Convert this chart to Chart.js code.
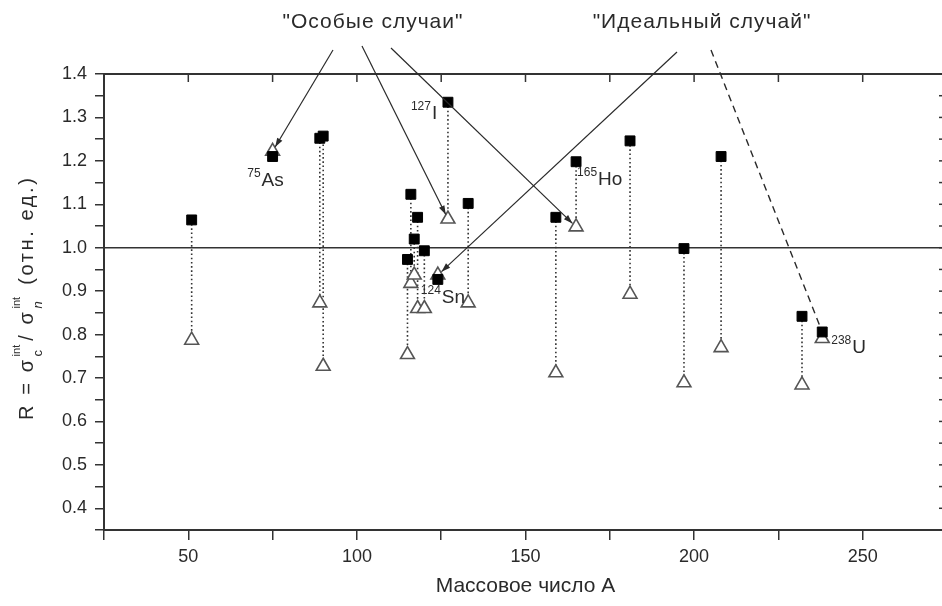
<!DOCTYPE html>
<html>
<head>
<meta charset="utf-8">
<script src="https://cdn.jsdelivr.net/npm/chart.js@4/dist/chart.umd.min.js"></script>
<style>
  html, body { margin: 0; padding: 0; overflow: hidden; background: #fff; }
  canvas { display: block; }
</style>
</head>
<body>
<canvas id="chart" width="960" height="606"></canvas>
<script>
// mass number A and the two ratios for every nucleus
const massNumbers = [51, 75, 89, 90, 115, 116, 117, 118, 120, 124, 127, 133, 159, 165, 181, 197, 208, 232, 238];
const ratioC = [1.064, 1.210, 1.252, 1.257, 0.973, 1.123, 1.020, 1.070, 0.993, 0.927, 1.335, 1.102, 1.070, 1.198, 1.246, 0.998, 1.210, 0.842, 0.806];
const ratioN = [0.787, 1.222, 0.873, 0.727, 0.754, 0.918, 0.937, 0.860, 0.860, 0.937, 1.066, 0.873, 0.712, 1.048, 0.893, 0.689, 0.770, 0.684, 0.791];

const xTickLabels = [50, 100, 150, 200, 250];
const yTickLabels = ['0.4', '0.5', '0.6', '0.7', '0.8', '0.9', '1.0', '1.1', '1.2', '1.3', '1.4'];

// labelled nuclei: [mass number, superscript, symbol]
const isotopes = [
    [75, '75', 'As'],
    [127, '127', 'I'],
    [165, '165', 'Ho'],
    [124, '124', 'Sn'],
    [238, '238', 'U'],
];
const isotopeOffsets = { 75: [-11, 29], 127: [-16, 17], 165: [22, 23], 124: [4, 24], 238: [30, 21] };

// callouts: text, centre, and the nuclei each one points at
const specialCases = ['"Особые случаи"', [373, 22], [75, 127, 165]];
const idealCases = ['"Идеальный случай"', [702, 22], [124, 238]];
const calloutStarts = { 75: [333, 50], 127: [362, 46], 165: [391, 48], 124: [677, 52], 238: [711, 50] };

const FONT = '"Liberation Sans", Arial, sans-serif';
const INK = '#2a2a2a';
Chart.defaults.font.family = FONT;

function arrow(ctx, x0, y0, x1, y1, dashed) {
    const ang = Math.atan2(y1 - y0, x1 - x0);
    ctx.save();
    ctx.strokeStyle = INK;
    ctx.fillStyle = INK;
    ctx.lineWidth = dashed ? 1.4 : 1.2;
    if (dashed) ctx.setLineDash([7, 5]);
    ctx.beginPath();
    ctx.moveTo(x0, y0);
    ctx.lineTo(x1, y1);
    ctx.stroke();
    ctx.setLineDash([]);
    if (!dashed) {
        const len = 9, half = 3;
        ctx.beginPath();
        ctx.moveTo(x1, y1);
        ctx.lineTo(x1 - len * Math.cos(ang) + half * Math.sin(ang), y1 - len * Math.sin(ang) - half * Math.cos(ang));
        ctx.lineTo(x1 - len * Math.cos(ang) - half * Math.sin(ang), y1 - len * Math.sin(ang) + half * Math.cos(ang));
        ctx.closePath();
        ctx.fill();
    }
    ctx.restore();
}

const decorations = {
    id: 'decorations',
    beforeDatasetsDraw(chart) {
        // dotted drop lines between the two values of a nucleus
        const { ctx, scales: { x, y } } = chart;
        ctx.save();
        ctx.strokeStyle = '#333';
        ctx.lineWidth = 1.6;
        ctx.setLineDash([1.6, 2.6]);
        massNumbers.forEach((a, i) => {
            const px = x.getPixelForValue(a);
            ctx.beginPath();
            ctx.moveTo(px, y.getPixelForValue(ratioC[i]));
            ctx.lineTo(px, y.getPixelForValue(ratioN[i]));
            ctx.stroke();
        });
        ctx.restore();
    },
    afterDraw(chart) {
        const { ctx, chartArea: area, scales: { x, y } } = chart;
        ctx.save();

        // top and right frame with inward ticks
        ctx.strokeStyle = '#333';
        ctx.lineWidth = 2;
        ctx.beginPath();
        ctx.moveTo(area.left, area.top);
        ctx.lineTo(area.right, area.top);
        ctx.lineTo(area.right, area.bottom);
        ctx.stroke();
        ctx.lineWidth = 1.5;
        x.ticks.forEach(t => {
            const px = x.getPixelForValue(t.value);
            ctx.beginPath();
            ctx.moveTo(px, area.top);
            ctx.lineTo(px, area.top + 8);
            ctx.stroke();
        });
        y.ticks.forEach(t => {
            const py = y.getPixelForValue(t.value);
            ctx.beginPath();
            ctx.moveTo(area.right, py);
            ctx.lineTo(area.right - 8, py);
            ctx.stroke();
        });

        // isotope labels
        ctx.fillStyle = INK;
        ctx.textBaseline = 'alphabetic';
        isotopes.forEach(([a, sup, sym]) => {
            const i = massNumbers.indexOf(a);
            const [dx, dy] = isotopeOffsets[a];
            const bx = x.getPixelForValue(a) + dx;
            const by = y.getPixelForValue(ratioC[i]) + dy;
            ctx.font = '19px ' + FONT;
            ctx.textAlign = 'left';
            ctx.fillText(sym, bx, by);
            ctx.font = '12px ' + FONT;
            ctx.textAlign = 'right';
            ctx.fillText(sup, bx - 1, by - 9);
        });

        // callouts
        [specialCases, idealCases].forEach(([text, [cx, cy], targets]) => {
            ctx.font = '21px ' + FONT;
            ctx.letterSpacing = '1px';
            ctx.textAlign = 'center';
            ctx.textBaseline = 'middle';
            ctx.fillStyle = INK;
            ctx.fillText(text, cx, cy);
            ctx.letterSpacing = '0px';
            targets.forEach(a => {
                const i = massNumbers.indexOf(a);
                const dashed = a === 238;
                const tx = x.getPixelForValue(a);
                const ty = y.getPixelForValue(dashed ? ratioC[i] : ratioN[i]);
                const [sx, sy] = calloutStarts[a];
                const d = Math.hypot(tx - sx, ty - sy);
                const k = (d - 5) / d;
                arrow(ctx, sx, sy, sx + (tx - sx) * k, sy + (ty - sy) * k, dashed);
            });
        });

        // y axis title: R = σc^int / σn^int (отн. ед.)
        ctx.translate(27, 420);
        ctx.rotate(-Math.PI / 2);
        ctx.textAlign = 'left';
        ctx.textBaseline = 'middle';
        ctx.letterSpacing = '2.6px';
        let cur = 0;
        const main = (s, font) => {
            ctx.font = font || '20px ' + FONT;
            ctx.fillText(s, cur, 0);
            cur += ctx.measureText(s).width;
        };
        const stack = (sup, sub, subFont) => {
            ctx.letterSpacing = '0px';
            ctx.font = '11px ' + FONT;
            const w1 = ctx.measureText(sup).width;
            ctx.fillText(sup, cur + 1, -10);
            ctx.font = subFont;
            const w2 = ctx.measureText(sub).width;
            ctx.fillText(sub, cur + 1, 11);
            cur += Math.max(w1, w2) + 5;
            ctx.letterSpacing = '2.6px';
        };
        main('R = σ');
        stack('int', 'c', '13px ' + FONT);
        main('/ σ');
        stack('int', 'n', 'italic 13px ' + FONT);
        main(' (отн. ед.)');
        ctx.restore();
    }
};

new Chart(document.getElementById('chart'), {
    type: 'scatter',
    data: {
        datasets: [
            {
                label: 'R = 1',
                type: 'line',
                data: [{ x: 25, y: 1 }, { x: 275, y: 1 }],
                borderColor: '#333',
                borderWidth: 1.6,
                pointRadius: 0,
                order: 2,
            },
            {
                label: 'σn',
                data: massNumbers.map((a, i) => ({ x: a, y: ratioN[i] })),
                pointStyle: 'triangle',
                pointRadius: 8,
                backgroundColor: '#fff',
                borderColor: '#555',
                borderWidth: 1.6,
                order: 1,
            },
            {
                label: 'σc',
                data: massNumbers.map((a, i) => ({ x: a, y: ratioC[i] })),
                pointStyle: 'rect',
                pointRadius: 7,
                backgroundColor: '#000',
                borderColor: '#000',
                borderWidth: 1,
                order: 0,
            },
        ]
    },
    options: {
        responsive: false,
        animation: false,
        events: [],
        layout: { padding: { top: 74, right: 13, left: 0, bottom: 0 } },
        plugins: {
            legend: { display: false },
            tooltip: { enabled: false },
        },
        scales: {
            x: {
                type: 'linear',
                min: 25,
                max: 275,
                afterFit: s => { s.height = 76; },
                border: { display: true, color: '#333', width: 2 },
                grid: { drawOnChartArea: false, tickLength: 10, color: '#333', lineWidth: 1.5 },
                ticks: {
                    stepSize: 25,
                    autoSkip: false,
                    maxRotation: 0,
                    padding: 6,
                    color: INK,
                    font: { size: 18 },
                    callback: v => xTickLabels.includes(v) ? String(v) : '',
                },
                title: {
                    display: true,
                    text: 'Массовое число А',
                    color: INK,
                    font: { size: 21 },
                    padding: { top: 0, bottom: 7 },
                },
            },
            y: {
                min: 0.35,
                max: 1.4,
                afterFit: s => { s.width = 104; },
                border: { display: true, color: '#333', width: 2 },
                grid: { drawOnChartArea: false, tickLength: 9, color: '#333', lineWidth: 1.5 },
                ticks: {
                    stepSize: 0.05,
                    autoSkip: false,
                    padding: 8,
                    color: INK,
                    font: { size: 18 },
                    callback: v => {
                        const s = v.toFixed(1);
                        return Math.abs(v * 10 - Math.round(v * 10)) < 1e-6 && yTickLabels.includes(s) ? s : '';
                    },
                },
            },
        },
    },
    plugins: [decorations],
});
</script>
</body>
</html>
